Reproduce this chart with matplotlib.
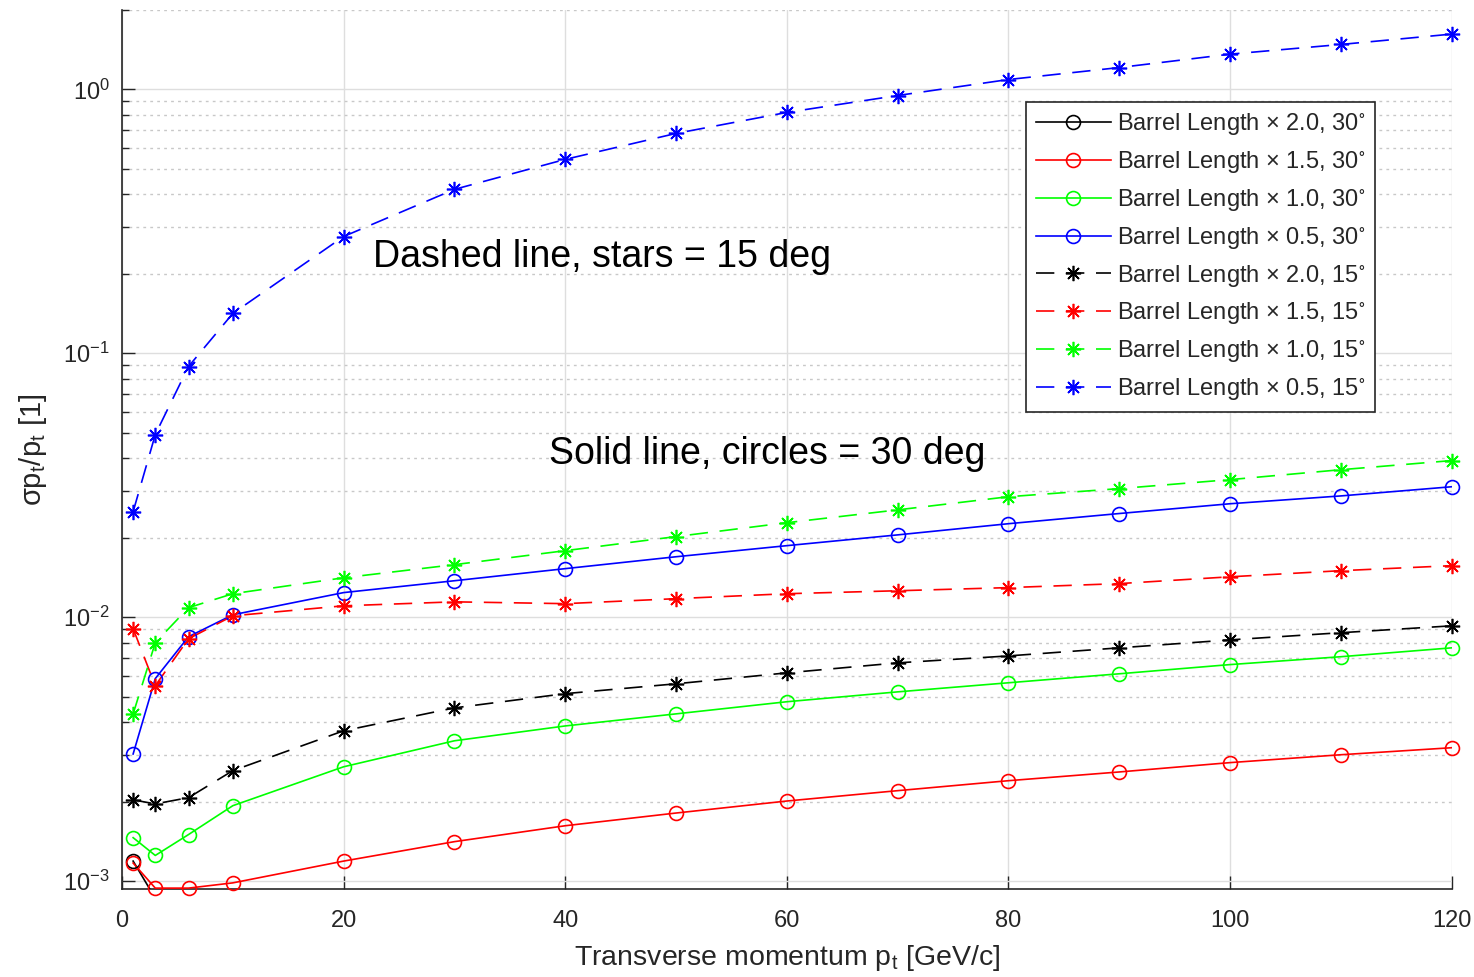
import numpy as np
import matplotlib
matplotlib.use("Agg")
import matplotlib.pyplot as plt
from matplotlib.lines import Line2D
from matplotlib.ticker import LogLocator, NullFormatter, FixedLocator

plt.rcParams['font.family'] = ['Liberation Sans', 'DejaVu Sans']
plt.rcParams['mathtext.fontset'] = 'custom'
plt.rcParams['mathtext.rm'] = 'Liberation Sans'
plt.rcParams['mathtext.it'] = 'Liberation Sans:italic'
plt.rcParams['mathtext.bf'] = 'Liberation Sans:bold'
plt.rcParams['mathtext.default'] = 'regular'

# ---------------- data ----------------
pt = [1, 3, 6, 10, 20, 30, 40, 50, 60, 70, 80, 90, 100, 110, 120]

# 30 degrees (solid, circles)
len20_30 = [0.00119, 0.00086, 0.00074, 0.00072, 0.00075, 0.00079, 0.00082, 0.00084,
            0.00086, 0.00087, 0.00088, 0.00089, 0.00090, 0.00091, 0.00092]
len15_30 = [0.00117, 0.000940, 0.000940, 0.000984, 0.00119, 0.00141, 0.00162, 0.00181,
            0.00201, 0.00220, 0.00240, 0.00259, 0.00281, 0.00301, 0.00320]
len10_30 = [0.00146, 0.00125, 0.00150, 0.00193, 0.00271, 0.00340, 0.00387, 0.00430,
            0.00478, 0.00521, 0.00564, 0.00610, 0.00661, 0.00708, 0.00765]
len05_30 = [0.00303, 0.00585, 0.00843, 0.01021, 0.01239, 0.01374, 0.01527, 0.01694,
            0.01866, 0.0205, 0.0226, 0.0247, 0.0269, 0.0288, 0.0312]

# 15 degrees (dashed, stars)
len20_15 = [0.00203, 0.00196, 0.00207, 0.00262, 0.00371, 0.00453, 0.00513, 0.00559,
            0.00615, 0.00671, 0.00713, 0.00765, 0.00820, 0.00873, 0.00927]
len15_15 = [0.00904, 0.00550, 0.00828, 0.01012, 0.01104, 0.01143, 0.01125, 0.01175,
            0.01227, 0.01259, 0.01294, 0.0134, 0.01422, 0.0150, 0.01567]
len10_15 = [0.00430, 0.00800, 0.01086, 0.01227, 0.01410, 0.01581, 0.01786, 0.0202,
            0.0228, 0.0255, 0.0286, 0.0307, 0.0332, 0.0362, 0.0392]
len05_15 = [0.0251, 0.0492, 0.0891, 0.1416, 0.277, 0.418, 0.543, 0.681,
            0.818, 0.948, 1.09, 1.21, 1.36, 1.48, 1.62]

labels = [r'Barrel Length $\times$ 2.0, 30$^{\circ}$',
          r'Barrel Length $\times$ 1.5, 30$^{\circ}$',
          r'Barrel Length $\times$ 1.0, 30$^{\circ}$',
          r'Barrel Length $\times$ 0.5, 30$^{\circ}$',
          r'Barrel Length $\times$ 2.0, 15$^{\circ}$',
          r'Barrel Length $\times$ 1.5, 15$^{\circ}$',
          r'Barrel Length $\times$ 1.0, 15$^{\circ}$',
          r'Barrel Length $\times$ 0.5, 15$^{\circ}$']

xticks = [0, 20, 40, 60, 80, 100, 120]

# ---------------- plot ----------------
YMIN, YMAX = 9.33e-4, 2.0
fig = plt.figure(figsize=(14.74, 9.77), dpi=100)
ax = fig.add_axes([0.0828, 0.0901, 0.9020, 0.8997])

dash = (0, (11, 7))
colors = ['k', 'r', '#00ff00', 'b']
star = (8, 2, 0)
series = [(len20_30, colors[0], '-', 'o'), (len15_30, colors[1], '-', 'o'),
          (len10_30, colors[2], '-', 'o'), (len05_30, colors[3], '-', 'o'),
          (len20_15, colors[0], dash, star), (len15_15, colors[1], dash, star),
          (len10_15, colors[2], dash, star), (len05_15, colors[3], dash, star)]

handles = []
for (vals, c, ls, mk), lab in zip(series, labels):
    x = np.array(pt, dtype=float)
    y = np.array(vals, dtype=float)
    ax.plot(x, y, color=c, linestyle=ls, linewidth=1.2, zorder=3)
    inside = (y >= YMIN) & (y <= YMAX)
    ms = 10 if mk == 'o' else 11
    ax.plot(x[inside], y[inside], linestyle='none', marker=mk, markersize=ms,
            markerfacecolor='none', markeredgecolor=c, markeredgewidth=1.2,
            clip_on=False, zorder=4)
    handles.append(Line2D([], [], color=c, linestyle=ls, linewidth=1.2, marker=mk,
                          markersize=ms, markerfacecolor='none',
                          markeredgecolor=c, markeredgewidth=1.2, label=lab))

ax.set_yscale('log')
ax.set_xlim(0, 120)
ax.set_ylim(YMIN, YMAX)
ax.xaxis.set_major_locator(FixedLocator(xticks))
ax.yaxis.set_major_locator(LogLocator(base=10, numticks=10))
ax.yaxis.set_minor_locator(LogLocator(base=10, subs=np.arange(2, 10), numticks=100))
ax.yaxis.set_minor_formatter(NullFormatter())

ax.grid(which='major', axis='both', color='#dedede', linewidth=1.0, linestyle='-', zorder=0)
ax.grid(which='minor', axis='y', color='#c8c8c8', linewidth=1.0, linestyle=(0, (2, 3)), zorder=0)
ax.set_axisbelow(True)

for s in ['top', 'right']:
    ax.spines[s].set_visible(False)
for s in ['left', 'bottom']:
    ax.spines[s].set_color('#262626')
    ax.spines[s].set_linewidth(1.2)

ax.tick_params(axis='both', which='major', direction='in', length=9.5, width=1.0,
               color='#262626', labelsize=17, labelcolor='#262626')
ax.tick_params(axis='y', which='minor', direction='in', length=5, width=1.0, color='#262626')
ax.tick_params(axis='x', which='major', pad=15)
ax.tick_params(axis='y', which='major', pad=9)

ax.set_xlabel(r'Transverse momentum p$_t$ [GeV/c]', fontsize=20.5, color='#262626', labelpad=8)
ax.set_ylabel(r'$\sigma$p$_t$/p$_t$ [1]', fontsize=21, color='#262626', labelpad=10)

ax.text(22.65, 0.232, 'Dashed line, stars = 15 deg', fontsize=27, va='center', ha='left')
ax.text(38.5, 0.0415, 'Solid line, circles = 30 deg', fontsize=27, va='center', ha='left')

leg = ax.legend(handles=handles, loc='upper left', bbox_to_anchor=(0.680, 0.8953),
                fontsize=17, frameon=True, fancybox=False, shadow=False,
                handlelength=3.2, handletextpad=0.25, labelspacing=0.5,
                borderpad=0.4, borderaxespad=0.0, numpoints=1)
leg.get_frame().set_edgecolor('#262626')
leg.get_frame().set_linewidth(1.2)
leg.get_frame().set_alpha(1.0)
for t in leg.get_texts():
    t.set_color('#262626')

fig.savefig('out.png', dpi=100, facecolor='white')
